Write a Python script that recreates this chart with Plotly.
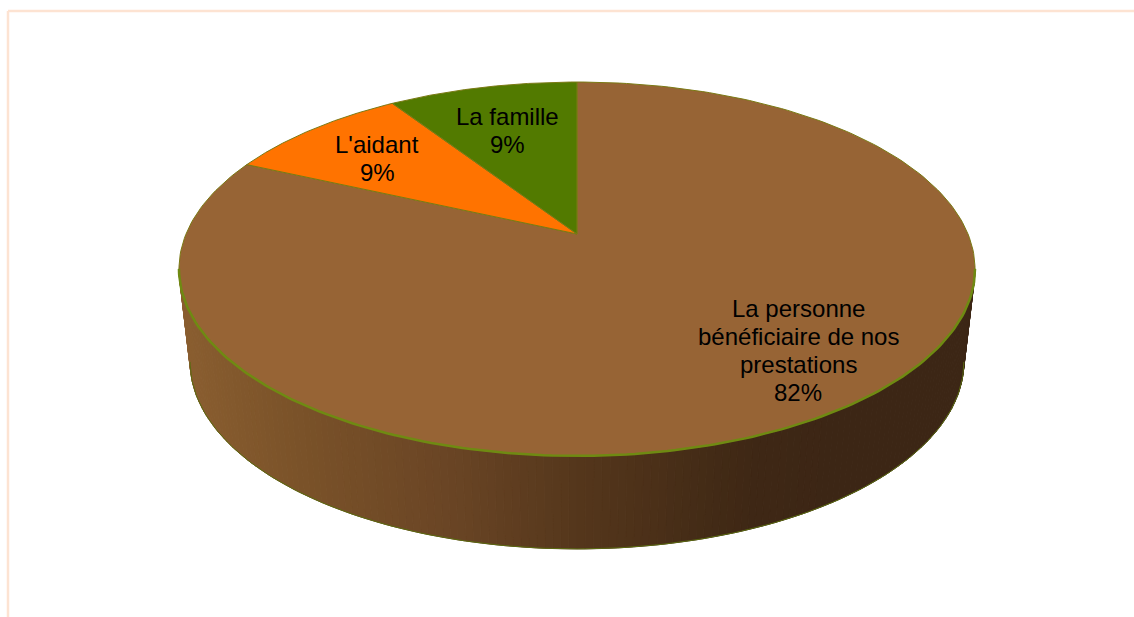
import numpy as np
import plotly.graph_objects as go

# ---- data ----
categories = [["La personne", "bénéficiaire de nos", "prestations"], ["L'aidant"], ["La famille"]]
values = [81.8, 9.0, 9.2]
percent_labels = ["82%", "9%", "9%"]

# ---- style and layout ----
slice_colors = ["#976435", "#ff7300", "#527a00"]
label_x = [798, 377, 507]
label_top_y = [308, 144, 116]
LINE_STEP = 28
edge_color = "#6f8a12"
slice_line = "#7a7a14"
frame_color = "#fde3d2"
W, H = 1134, 617
APEX_X, APEX_Y = 577, 234
K, C, D = 180.4, -0.187, 391.0      # projective tilt of the disc
DEPTH, SHRINK = 93, 0.972           # extrusion of the side wall
grad_x = [180, 300, 450, 577, 750, 860, 975]
grad_r = [138, 122, 106, 85, 63, 60, 60]
grad_g = [94, 82, 69, 55, 40, 38, 38]
grad_b = [48, 41, 37, 28, 21, 21, 21]


def project(a):
    """Angle (clockwise from 12 o'clock) to page position on the tilted disc."""
    u, v = np.sin(a), -np.cos(a)
    w = 1 + C * v
    return APEX_X + D * u / w, APEX_Y + K * v / w


def lower(x, y):
    return APEX_X + (x - APEX_X) * SHRINK, y + DEPTH


fig = go.Figure()

# side wall: narrow vertical strips shaded left to right
grid = np.linspace(0, 2 * np.pi, 1441)
gx, _ = project(grid)
a_right, a_left = grid[np.argmax(gx)], grid[np.argmin(gx)]
front = np.linspace(a_right, a_left, 161)
fx, fy = project(front)
bx, by = lower(fx, fy)
for i in range(len(front) - 1):
    xs = [fx[i], fx[i + 1], bx[i + 1], bx[i], fx[i]]
    ys = [fy[i], fy[i + 1], by[i + 1], by[i], fy[i]]
    mid = (fx[i] + fx[i + 1]) / 2
    col = "rgb(%d,%d,%d)" % (np.interp(mid, grad_x, grad_r),
                             np.interp(mid, grad_x, grad_g),
                             np.interp(mid, grad_x, grad_b))
    fig.add_trace(go.Scatter(x=xs, y=ys, mode="lines", fill="toself", fillcolor=col,
                             line=dict(color=col, width=1), hoverinfo="skip", showlegend=False))

# bottom rim
fig.add_trace(go.Scatter(x=bx, y=by, mode="lines", line=dict(color="#5a6a10", width=1),
                         hoverinfo="skip", showlegend=False))

# top face slices
edges = np.cumsum([0] + values) / sum(values) * 2 * np.pi
for k in range(len(values)):
    arc = np.linspace(edges[k], edges[k + 1], 240)
    ax, ay = project(arc)
    fig.add_trace(go.Scatter(x=[APEX_X, *ax, APEX_X], y=[APEX_Y, *ay, APEX_Y], mode="lines",
                             fill="toself", fillcolor=slice_colors[k],
                             line=dict(color=slice_line, width=1),
                             hoverinfo="skip", showlegend=False))

# brighter rim of the front edge
fig.add_trace(go.Scatter(x=fx, y=fy, mode="lines", line=dict(color=edge_color, width=2.5),
                         hoverinfo="skip", showlegend=False))

for lines, pct, x, y0 in zip(categories, percent_labels, label_x, label_top_y):
    for j, text in enumerate([*lines, pct]):
        fig.add_annotation(x=x, y=y0 + j * LINE_STEP, text=text, showarrow=False, align="center",
                           font=dict(family="Liberation Sans", size=24, color="#000000"))

fig.add_shape(type="line", x0=8, y0=11, x1=W, y1=11, line=dict(color=frame_color, width=2.5))
fig.add_shape(type="line", x0=8, y0=11, x1=8, y1=H, line=dict(color=frame_color, width=2.5))

fig.update_layout(width=W, height=H, margin=dict(l=0, r=0, t=0, b=0),
                  paper_bgcolor="white", plot_bgcolor="white", showlegend=False,
                  xaxis=dict(range=[0, W], visible=False, fixedrange=True),
                  yaxis=dict(range=[H, 0], visible=False, fixedrange=True))
fig.write_html("out.html", config={"displayModeBar": False},
               post_script="document.body.style.margin='0';")
